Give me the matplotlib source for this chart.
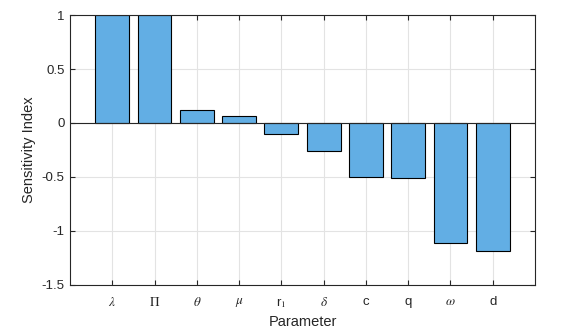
import matplotlib.pyplot as plt

plt.rcParams['font.family'] = ['Liberation Sans', 'DejaVu Sans']
plt.rcParams['mathtext.fontset'] = 'stix'

# parameters and their sensitivity indices
params = [r'$\lambda$', r'$\Pi$', r'$\theta$', r'$\mu$', r'r$_1$',
          r'$\delta$', 'c', 'q', r'$\omega$', 'd']
sens = [1.0, 1.0, 0.12, 0.062, -0.105, -0.256, -0.50, -0.512, -1.114, -1.188]

fig = plt.figure(figsize=(5.75, 3.34), dpi=100)
ax = fig.add_axes([0.1217, 0.147, 0.8087, 0.808])

pos = list(range(1, len(params) + 1))
ax.bar(pos, sens, width=0.8, color='#62AEE4', edgecolor='black',
       linewidth=0.8, zorder=3)
ax.axhline(0, color='#262626', linewidth=0.8, zorder=4)

ax.set_xlim(0, 11)
ax.set_ylim(-1.5, 1)
ax.set_xticks(pos)
ax.set_xticklabels(params)
ax.set_yticks([-1.5, -1, -0.5, 0, 0.5, 1])
ax.set_yticklabels(['-1.5', '-1', '-0.5', '0', '0.5', '1'])
ax.grid(True, color='#e3e3e3', linewidth=0.8, zorder=0)
ax.tick_params(direction='in', top=True, right=True, length=3.5,
               colors='#262626', labelsize=9.5)
ax.tick_params(axis='x', pad=8)
ax.tick_params(axis='y', pad=4)
for s in ax.spines.values():
    s.set_color('#262626')
    s.set_linewidth(0.8)
    s.set_zorder(5)

ax.set_xlabel('Parameter', fontsize=10.5, color='#262626', labelpad=4)
ax.set_ylabel('Sensitivity Index', fontsize=10.5, color='#262626', labelpad=4)

fig.savefig('out.png', dpi=100)
